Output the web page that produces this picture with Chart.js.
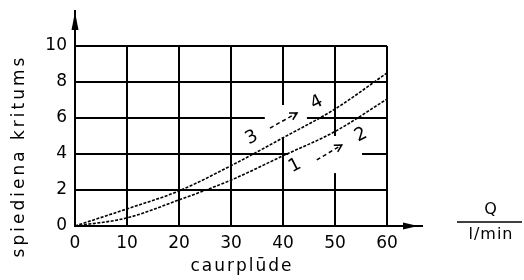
<!DOCTYPE html>
<html><head><meta charset="utf-8">
<script src="https://cdn.jsdelivr.net/npm/chart.js@4/dist/chart.umd.min.js"></script>
<style>html,body{margin:0;padding:0;background:#fff}#wrap{width:524px;height:280px}</style>
</head><body><div id="wrap"><canvas id="c" width="524" height="280"></canvas></div>
<script>
// ---- data ----
const flowValues = [0, 10, 20, 30, 40, 50, 60];          // Q, l/min
const curve12 = [0, 0.45, 1.45, 2.55, 3.9, 5.25, 7.05];   // curve "1 -> 2"
const curve34 = [0, 0.95, 1.95, 3.35, 4.9, 6.5, 8.5];     // curve "3 -> 4"
const xTickValues = [0, 10, 20, 30, 40, 50, 60];
const yTickValues = [0, 2, 4, 6, 8, 10];
const xTitle = 'caurplūde';
const yTitle = 'spiediena kritums';
const unitNumerator = 'Q';
const unitDenominator = 'l/min';
const curveTags = ['1', '2', '3', '4'];

const FONT = "'DejaVu Sans', sans-serif";
const toPts = (xs, ys) => xs.map((x, i) => ({x, y: ys[i]}));

const decor = {
  id: 'decor',
  beforeDatasetsDraw(chart) {
    const {ctx, scales: {x, y}} = chart;
    ctx.save();
    ctx.fillStyle = '#fff';
    const box = (x0, x1, y0, y1) => {
      const l = x.getPixelForValue(x0), r = x.getPixelForValue(x1);
      const t = y.getPixelForValue(y1), b = y.getPixelForValue(y0);
      ctx.fillRect(l, t, r - l, b - t);
    };
    box(36.5, 44.6, 4.94, 6.72);
    box(41, 55.2, 2.94, 5.0);
    ctx.restore();
  },
  afterDatasetsDraw(chart) {
    const {ctx, scales: {x, y}} = chart;
    const ang = -0.47;
    ctx.save();
    ctx.fillStyle = '#000';
    ctx.strokeStyle = '#000';
    ctx.font = '18px ' + FONT;
    ctx.textAlign = 'center';
    ctx.textBaseline = 'middle';
    const tag = (t, dx, dy) => {
      ctx.save();
      ctx.translate(x.getPixelForValue(dx), y.getPixelForValue(dy));
      ctx.rotate(ang);
      ctx.fillText(t, 0, 0);
      ctx.restore();
    };
    tag(curveTags[2], 34.0, 4.9);
    tag(curveTags[3], 46.5, 6.85);
    tag(curveTags[0], 42.3, 3.35);
    tag(curveTags[1], 55.0, 5.06);
    const arrow = (ax, ay, bx, by) => {
      const x0 = x.getPixelForValue(ax), y0 = y.getPixelForValue(ay);
      const x1 = x.getPixelForValue(bx), y1 = y.getPixelForValue(by);
      ctx.lineWidth = 1.5;
      ctx.setLineDash([4, 3]);
      ctx.beginPath(); ctx.moveTo(x0, y0); ctx.lineTo(x1, y1); ctx.stroke();
      ctx.setLineDash([]);
      const a = Math.atan2(y1 - y0, x1 - x0);
      ctx.beginPath();
      ctx.moveTo(x1 - 8 * Math.cos(a - 0.5), y1 - 8 * Math.sin(a - 0.5));
      ctx.lineTo(x1, y1);
      ctx.lineTo(x1 - 8 * Math.cos(a + 0.5), y1 - 8 * Math.sin(a + 0.5));
      ctx.stroke();
    };
    arrow(37.5, 5.44, 42.7, 6.28);
    arrow(46.5, 3.67, 51.3, 4.5);
    ctx.restore();
  },
  afterDraw(chart) {
    const {ctx, chartArea: ca, scales: {x}} = chart;
    ctx.save();
    ctx.fillStyle = '#000';
    ctx.strokeStyle = '#000';
    ctx.lineWidth = 2;
    // y axis arrow
    ctx.beginPath(); ctx.moveTo(ca.left, ca.top); ctx.lineTo(ca.left, ca.top - 36); ctx.stroke();
    ctx.beginPath();
    ctx.moveTo(ca.left, ca.top - 34);
    ctx.lineTo(ca.left - 3.5, ca.top - 16);
    ctx.lineTo(ca.left + 3.5, ca.top - 16);
    ctx.closePath(); ctx.fill();
    // x axis arrow
    ctx.beginPath(); ctx.moveTo(ca.right, ca.bottom); ctx.lineTo(ca.right + 36, ca.bottom); ctx.stroke();
    ctx.beginPath();
    ctx.moveTo(ca.right + 31, ca.bottom);
    ctx.lineTo(ca.right + 16, ca.bottom - 3.5);
    ctx.lineTo(ca.right + 16, ca.bottom + 3.5);
    ctx.closePath(); ctx.fill();
    // titles
    ctx.font = '17px ' + FONT;
    ctx.textAlign = 'center';
    ctx.textBaseline = 'middle';
    ctx.letterSpacing = '2px';
    ctx.fillText(xTitle, x.getPixelForValue(32.1), chart.height - 13);
    ctx.save();
    ctx.translate(20, (ca.top + ca.bottom) / 2 + 20);
    ctx.rotate(-Math.PI / 2);
    ctx.letterSpacing = '3px';
    ctx.fillText(yTitle, 0, 0);
    ctx.restore();
    // unit fraction
    ctx.letterSpacing = '1px';
    ctx.font = '16px ' + FONT;
    const fx = ca.right + 104;
    ctx.fillText(unitNumerator, fx, ca.bottom - 16);
    ctx.fillText(unitDenominator, fx, ca.bottom + 9);
    ctx.lineWidth = 1.5;
    ctx.beginPath(); ctx.moveTo(ca.right + 70, ca.bottom - 4); ctx.lineTo(ca.right + 135, ca.bottom - 4); ctx.stroke();
    ctx.restore();
  }
};

const curveStyle = {
  borderColor: '#000', borderWidth: 1.6, borderDash: [3, 1.5],
  pointRadius: 0, fill: false, cubicInterpolationMode: 'monotone'
};

new Chart(document.getElementById('c'), {
  type: 'line',
  data: {
    datasets: [
      Object.assign({label: '1 → 2', data: toPts(flowValues, curve12)}, curveStyle),
      Object.assign({label: '3 → 4', data: toPts(flowValues, curve34)}, curveStyle)
    ]
  },
  options: {
    responsive: false, animation: false, devicePixelRatio: 1,
    layout: {padding: {top: 46, right: 137, left: 0, bottom: 0}},
    plugins: {legend: {display: false}, tooltip: {enabled: false}},
    scales: {
      x: {
        type: 'linear', min: 0, max: 60,
        afterBuildTicks: s => { s.ticks = xTickValues.map(v => ({value: v})); },
        afterFit: s => { s.height = 54; },
        ticks: {color: '#000', font: {family: FONT, size: 17}, padding: 7, maxRotation: 0},
        grid: {color: '#000', lineWidth: 2, drawTicks: false},
        border: {color: '#000', width: 2}
      },
      y: {
        type: 'linear', min: 0, max: 10,
        afterBuildTicks: s => { s.ticks = yTickValues.map(v => ({value: v})); },
        afterFit: s => { s.width = 75; },
        ticks: {color: '#000', font: {family: FONT, size: 17}, padding: 8},
        grid: {color: '#000', lineWidth: 2, drawTicks: false},
        border: {color: '#000', width: 2}
      }
    }
  },
  plugins: [decor]
});
</script></body></html>
